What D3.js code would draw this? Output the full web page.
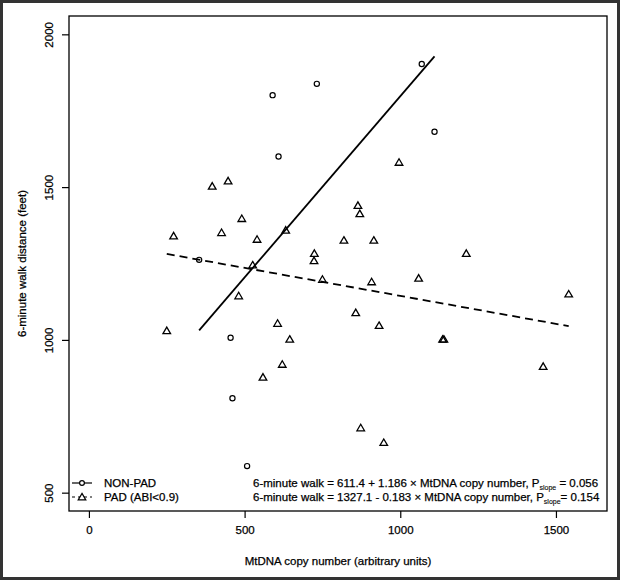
<!DOCTYPE html>
<html>
<head>
<meta charset="utf-8">
<script src="https://cdn.jsdelivr.net/npm/d3@7"></script>
<style>
  body { margin: 0; background: #fff; }
  svg text { font-family: "Liberation Sans", Arial, sans-serif; fill: #000; stroke: #000; stroke-width: 0.25px; }
</style>
</head>
<body>
<svg id="chart" width="621" height="582"></svg>
<script>
// NON-PAD participants (circles)
const nonPadX = [1069, 732, 590, 1110, 609, 354, 455, 461, 508];
const nonPadY = [1903, 1838, 1801, 1681, 1600, 1262, 1007, 809, 587];

// PAD (ABI<0.9) participants (triangles)
const padX = [996, 447, 396, 864, 870, 491, 426, 272, 632, 540, 819, 915, 724, 723, 526,
  750, 908, 1059, 1212, 481, 857, 932, 250, 606, 645, 1136, 1140, 621, 559, 1541, 1459, 873, 947];
const padY = [1581, 1520, 1503, 1440, 1413, 1397, 1351, 1340, 1359, 1329, 1326, 1326, 1283, 1259, 1245,
  1198, 1190, 1202, 1283, 1144, 1089, 1047, 1030, 1054, 1002, 1002, 1002, 920, 878, 1150, 913, 712, 664];

// fitted lines: intercept, slope
const nonPadFit = [611.4, 1.186];
const padFit = [1327.1, -0.183];

const xTicks = [0, 500, 1000, 1500];
const yTicks = [500, 1000, 1500, 2000];
const legendLabels = ['NON-PAD', 'PAD (ABI<0.9)'];
const fitLabels = [
  ['6-minute walk = 611.4 + 1.186 \u00d7 MtDNA copy number, P', 'slope', ' = 0.056'],
  ['6-minute walk = 1327.1 - 0.183 \u00d7 MtDNA copy number, P', 'slope', '= 0.154']
];

const svg = d3.select('#chart');
const box = { left: 69, right: 607, top: 16, bottom: 511 };

// R style: limits 0-1600 and 500-2000 with 4% padding
const x = d3.scaleLinear().domain([-64, 1664]).range([box.left, box.right]);
const y = d3.scaleLinear().domain([440, 2060]).range([box.bottom, box.top]);

// outer frame
svg.append('rect')
  .attr('x', 1.5).attr('y', 1.5).attr('width', 617).attr('height', 577)
  .attr('fill', 'none').attr('stroke', '#333').attr('stroke-width', 3);

// plot box
svg.append('rect')
  .attr('x', box.left).attr('y', box.top)
  .attr('width', box.right - box.left).attr('height', box.bottom - box.top)
  .attr('fill', 'none').attr('stroke', '#000').attr('stroke-width', 1.3);

// axes
const xAxis = svg.append('g')
  .attr('transform', `translate(0,${box.bottom})`)
  .call(d3.axisBottom(x).tickValues(xTicks).tickFormat(d3.format('d')).tickSize(7).tickPadding(8));
xAxis.select('.domain').remove();
xAxis.selectAll('text').attr('font-size', 11.5).style('font-family', '"Liberation Sans", Arial, sans-serif');
xAxis.selectAll('line').attr('stroke-width', 1.2);

const yAxis = svg.append('g')
  .attr('transform', `translate(${box.left},0)`)
  .call(d3.axisLeft(y).tickValues(yTicks).tickFormat(d3.format('d')).tickSize(7).tickPadding(0));
yAxis.select('.domain').remove();
yAxis.selectAll('line').attr('stroke-width', 1.2);
yAxis.selectAll('text')
  .attr('font-size', 11.5).style('font-family', '"Liberation Sans", Arial, sans-serif')
  .attr('x', null).attr('dy', null)
  .attr('text-anchor', 'middle')
  .attr('transform', 'translate(-16,0) rotate(-90)');

// axis titles
svg.append('text')
  .attr('x', (box.left + box.right) / 2).attr('y', 565)
  .attr('text-anchor', 'middle').attr('font-size', 11.5)
  .text('MtDNA copy number (arbitrary units)');
svg.append('text')
  .attr('transform', `translate(26,${(box.top + box.bottom) / 2}) rotate(-90)`)
  .attr('text-anchor', 'middle').attr('font-size', 11.5)
  .text('6-minute walk distance (feet)');

// symbols
const triPath = 'M0,-3.6L3.8,2.9L-3.8,2.9Z';

function fitLine(fit, xs, dash) {
  const ext = d3.extent(xs);
  const line = d3.line().x(d => x(d)).y(d => y(fit[0] + fit[1] * d));
  svg.append('path')
    .attr('d', line(ext))
    .attr('fill', 'none').attr('stroke', '#000').attr('stroke-width', 1.8)
    .attr('stroke-dasharray', dash);
}

fitLine(nonPadFit, nonPadX, null);
fitLine(padFit, padX, '8,5');

svg.append('g').selectAll('circle')
  .data(d3.zip(nonPadX, nonPadY))
  .join('circle')
  .attr('cx', d => x(d[0])).attr('cy', d => y(d[1])).attr('r', 2.6)
  .attr('fill', 'none').attr('stroke', '#000').attr('stroke-width', 1.2);

svg.append('g').selectAll('path')
  .data(d3.zip(padX, padY))
  .join('path')
  .attr('d', triPath)
  .attr('transform', d => `translate(${x(d[0])},${y(d[1])})`)
  .attr('fill', 'none').attr('stroke', '#000').attr('stroke-width', 1.3);

// legend (no box)
const legendRows = [483, 497];
legendLabels.forEach((lab, i) => {
  const g = svg.append('g').attr('transform', `translate(72,${legendRows[i]})`);
  g.append('line').attr('x1', 0).attr('x2', 20).attr('y1', 0).attr('y2', 0)
    .attr('stroke', '#000').attr('stroke-width', 1.2)
    .attr('stroke-dasharray', i === 0 ? null : '3,3');
  if (i === 0) {
    g.append('circle').attr('cx', 10).attr('cy', 0).attr('r', 2.4)
      .attr('fill', '#fff').attr('stroke', '#000').attr('stroke-width', 1.2);
  } else {
    g.append('path').attr('d', triPath).attr('transform', 'translate(10,0)')
      .attr('fill', '#fff').attr('stroke', '#000').attr('stroke-width', 1.2);
  }
  g.append('text').attr('x', 32).attr('y', 0).attr('dy', '0.35em')
    .attr('font-size', 11.5).text(lab);
});

// fitted equations
fitLabels.forEach((parts, i) => {
  const t = svg.append('text').attr('x', 253).attr('y', legendRows[i]).attr('dy', '0.35em')
    .attr('font-size', 11.5);
  t.append('tspan').text(parts[0]);
  t.append('tspan').attr('font-size', 7).attr('dy', 3).style('stroke-width', 0.1).text(parts[1]);
  t.append('tspan').attr('dy', -3).text(parts[2]);
});
</script>
</body>
</html>
